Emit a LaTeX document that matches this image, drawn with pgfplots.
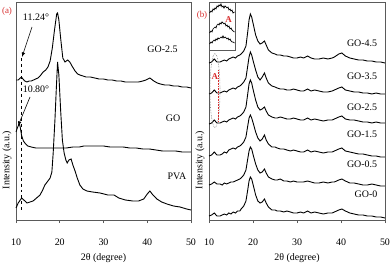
\documentclass[border=0pt]{standalone}
\usepackage{fontspec}
\setmainfont{Liberation Serif}
\usepackage{pgfplots}
\pgfplotsset{compat=1.18}
\usepackage{pgfplotstable}
\definecolor{labred}{RGB}{215,45,45}
\definecolor{axgray}{RGB}{90,90,90}

\pgfplotstableread{
x g0 g05 g15 g25 g35 g45
10    4  35  64  96 126 157
10.6  5  36  65  97 127 158
11.2  7  38  68 100 130 161
11.8  4  36  65  97 127 158
12.5  4  36  65  97 127 158
13.0  5  35  66  98 128 159
13.5  6  37  68  99 129 160
14.0  5  36  67  98 128 159
14.5  7  37  70 100 130 161
15.0  6  38  71 101 131 162
15.5  8  38  72 102 132 163
16.0  7  39  71 101 131 162
16.5  9  40  73 103 133 164
17.0  9  41  74 104 134 165
17.3 11  42  75 105 135 166
17.9 14  45  78 108 138 169
18.4 19  50  83 113 142 174
18.8 30  61  94 126 154 188
19.1 39  69 102 136 163 200
19.4 43  73 105 140 168 206
19.7 41  71 102 137 165 203
20.1 34  64  96 129 158 195
20.6 25  56  88 120 150 185
21.1 19  50  82 113 143 179
21.6 17  47  79 110 140 176
22.1 18  48  81 111 143 177
22.6 21  51  85 113 147 179
23.0 17  47  80 109 142 175
23.5 13  43  76 105 137 170
24.3 10  41  73 103 134 167
25.0 10  40  73 102 133 166
25.5  9  40  72 102 132 165
26.2  9  41  71 103 131 165
27.0  8  39  71 102 131 164
27.7  9  39  70 101 130 164
28.5  8  38  69 101 130 163
29.2  7  39  70 102 131 162
30.0  7  38  69 101 130 162
30.8  8  38  68 100 129 163
31.5  7  38  68 100 129 162
32.4  9  39  70 102 131 164
33.2  7  38  68 100 129 162
34.0  8  37  69 101 130 161
35.0  7  37  68 100 129 161
36.0  6  38  67  99 128 162
37.0  7  37  68 100 128 161
38.0  7  38  68 100 129 162
38.5  8  38  69 101 130 163
39.5 10  40  71 103 132 166
40.2 11  41  72 104 133 167
41.0  9  39  69 101 130 164
42.0  7  37  68 100 129 162
43.0  6  37  67 100 128 161
44.0  5  36  66  99 128 160
45.0  5  35  66  98 127 160
46.0  4  35  65  98 127 159
47.0  4  36  64  97 126 159
48.0  3  35  64  98 127 158
49.0  3  34  63  97 126 158
50.0  2  34  63  97 126 157
}\tblb

\pgfplotsset{
  xrdaxis/.style={
    scale only axis, height=218bp,
    xmin=10, xmax=50, ymin=0, ymax=218,
    xtick={10,20,30,40,50}, xtick pos=bottom, ytick=\empty,
    tick align=outside, major tick length=3bp,
    axis line style={axgray, line width=0.6bp},
    every tick/.style={axgray, line width=0.6bp},
    /pgf/number format/assume math mode=true,
    tick label style={font=\fontsize{10}{12}\selectfont},
    xticklabel style={anchor=base, yshift=-22bp},
    label style={font=\fontsize{10}{12}\selectfont},
    xlabel={2θ (degree)},
    ylabel={Intensity (a.u.)},
    xlabel style={at={(axis description cs:0.5,-0.188)}, anchor=base},
    ylabel style={at={(axis description cs:-0.051,0.275)}, anchor=center},
    clip=false,
    cycle list={{black}},
    every axis plot post/.append style={black, solid, line width=0.9bp, mark=none},
  }
}

\begin{document}
\begin{tikzpicture}
\begin{axis}[xrdaxis, at={(16bp,45bp)}, anchor=south west, width=175bp]
% GO-2.5
\addplot coordinates {(10,140) (10.5,140) (11,142) (11.24,143) (11.6,141) (12,139) (12.5,138) (13,139) (13.5,139) (14,140) (14.5,141) (15,142) (15.5,144) (16.2,148) (16.8,150) (17.3,153) (17.8,159) (18.3,172) (18.8,190) (19.3,206) (19.5,207) (19.8,200) (20.2,182) (20.7,162) (21.2,158) (21.8,160) (22.3,158) (22.8,154) (23.5,149) (24.1,146) (24.6,145) (25.3,144) (26,143) (27,143) (28,142) (29,141) (30,141) (31,140) (32,140) (33,139) (34,139) (35,138) (36,138) (37,138) (38,138) (39,139) (39.7,140) (40.6,142) (41.5,139) (42.3,137) (43,136) (44,135) (45,135) (46,134) (47,134) (48,133) (49,133) (50,132)};
% GO
\addplot coordinates {(10,88) (10.3,92) (10.6,95) (10.8,96) (11.0,92) (11.3,84) (11.7,79) (12.2,76) (12.7,74) (13.5,73) (14.5,72) (15.5,72) (17,72) (18.5,72) (20,72) (21.5,72) (23,73) (24.5,73) (25.5,74) (27,74) (28.5,74) (30,74) (31.5,73) (33,73) (34.5,73) (36,72) (37.5,72) (39,71) (40.5,71) (42,70) (43.5,69) (45,69) (46.5,69) (48,68) (50,68)};
% PVA
\addplot coordinates {(10,12) (10.5,17) (11.3,22) (11.8,20) (12.5,17) (13.2,18) (13.9,19) (14.7,22) (15.5,25) (16.1,30) (16.6,35) (17.3,39) (17.8,42) (18.2,48) (18.5,67) (18.9,100) (19.2,130) (19.5,158) (19.8,145) (20.2,110) (20.6,80) (21.0,67) (21.4,60) (21.7,57) (22.1,60) (22.6,61) (23.0,55) (23.5,49) (24.0,42) (24.6,35) (25.3,31) (26.2,29) (27.5,28) (29.2,27) (31,25) (32.4,25) (33.5,22) (35,20) (36.7,19) (38,19) (39.2,21) (40,26) (40.6,29) (41.3,25) (42.2,21) (43.3,18) (44.5,16) (46,14) (47.5,13) (49,11) (50,10)};
\draw[black, dashed, line width=0.5bp] (axis cs:11.3,162) -- (axis cs:11.3,8);
\draw[-latex, line width=0.6bp] (axis cs:13.66,193) -- (axis cs:11.37,163);
\draw[-latex, line width=0.6bp] (axis cs:13.2,123) -- (axis cs:10.46,94);
\node[font=\fontsize{10}{12}\selectfont] at (axis cs:14.57,203) {11.24°};
\node[font=\fontsize{10}{12}\selectfont] at (axis cs:14.57,131) {10.80°};
\node[font=\fontsize{10}{12}\selectfont] at (axis cs:43.5,171) {GO-2.5};
\node[font=\fontsize{10}{12}\selectfont] at (axis cs:45.9,102) {GO};
\node[font=\fontsize{10}{12}\selectfont] at (axis cs:46.8,44) {PVA};
\end{axis}

\begin{axis}[xrdaxis, at={(209bp,45bp)}, anchor=south west, width=176bp]
\addplot table[x=x, y=g0] {\tblb};
\addplot table[x=x, y=g05] {\tblb};
\addplot table[x=x, y=g15] {\tblb};
\addplot table[x=x, y=g25] {\tblb};
\addplot table[x=x, y=g35] {\tblb};
\addplot table[x=x, y=g45] {\tblb};
\draw[gray, densely dotted, line width=0.6bp] (axis cs:11.36,129.5) ellipse [x radius=5bp, y radius=37bp];
\draw[labred, densely dotted, line width=0.6bp] (axis cs:12.05,150) -- (axis cs:12.05,98);
\node[labred, font=\bfseries\fontsize{9}{10}\selectfont] at (axis cs:11.36,143) {A};
\node[font=\fontsize{10}{12}\selectfont] at (axis cs:44.8,177) {GO-4.5};
\node[font=\fontsize{10}{12}\selectfont] at (axis cs:44.8,144) {GO-3.5};
\node[font=\fontsize{10}{12}\selectfont] at (axis cs:44.8,113) {GO-2.5};
\node[font=\fontsize{10}{12}\selectfont] at (axis cs:44.8,86) {GO-1.5};
\node[font=\fontsize{10}{12}\selectfont] at (axis cs:44.8,56) {GO-0.5};
\node[font=\fontsize{10}{12}\selectfont] at (axis cs:45.7,26) {GO-0};
\end{axis}

\begin{axis}[scale only axis, at={(209bp,215bp)}, anchor=south west, width=26bp, height=48bp,
  xmin=209, xmax=235, ymin=0, ymax=48, ticks=none,
  axis line style={axgray, line width=0.8bp}, clip=false,
  cycle list={{black}},
  every axis plot post/.append style={black, solid, line width=0.7bp, mark=none}]
\addplot coordinates {(209.5,37) (211,39) (212,38) (213,41) (214,40) (215,42) (216,41) (217,44) (218,43) (219,45) (220,44) (221,46) (222,43) (223,44) (224,42) (225,44) (226,43) (227,42) (228,43) (229,40) (230,41) (231,39) (232,40) (233,37) (234.5,38)};
\addplot coordinates {(209.5,17) (211,19) (212,18) (213,21) (214,22) (215,23) (216,22) (217,25) (218,26) (219,25) (220,27) (221,26) (222,28) (223,27) (224,26) (225,27) (226,24) (227,25) (228,23) (229,24) (230,21) (231,22) (232,20) (233,19) (234.5,18)};
\addplot coordinates {(209.5,6) (211,8) (212,7) (213,9) (214,10) (215,9) (216,11) (217,10) (218,12) (219,11) (220,12) (221,13) (222,12) (223,14) (224,12) (225,13) (226,12) (227,11) (228,12) (229,10) (230,11) (231,9) (232,8) (233,8) (234.5,7)};
\node[labred, font=\bfseries\fontsize{9}{10}\selectfont] at (axis cs:228.5,30) {A};
\end{axis}

\node[labred, font=\fontsize{9}{10}\selectfont] at (7bp,254bp) {(a)};
\node[labred, font=\fontsize{9}{10}\selectfont] at (202bp,250bp) {(b)};

\pgfresetboundingbox
\path[use as bounding box] (0,0) rectangle (391bp,265bp);
\end{tikzpicture}
\end{document}
